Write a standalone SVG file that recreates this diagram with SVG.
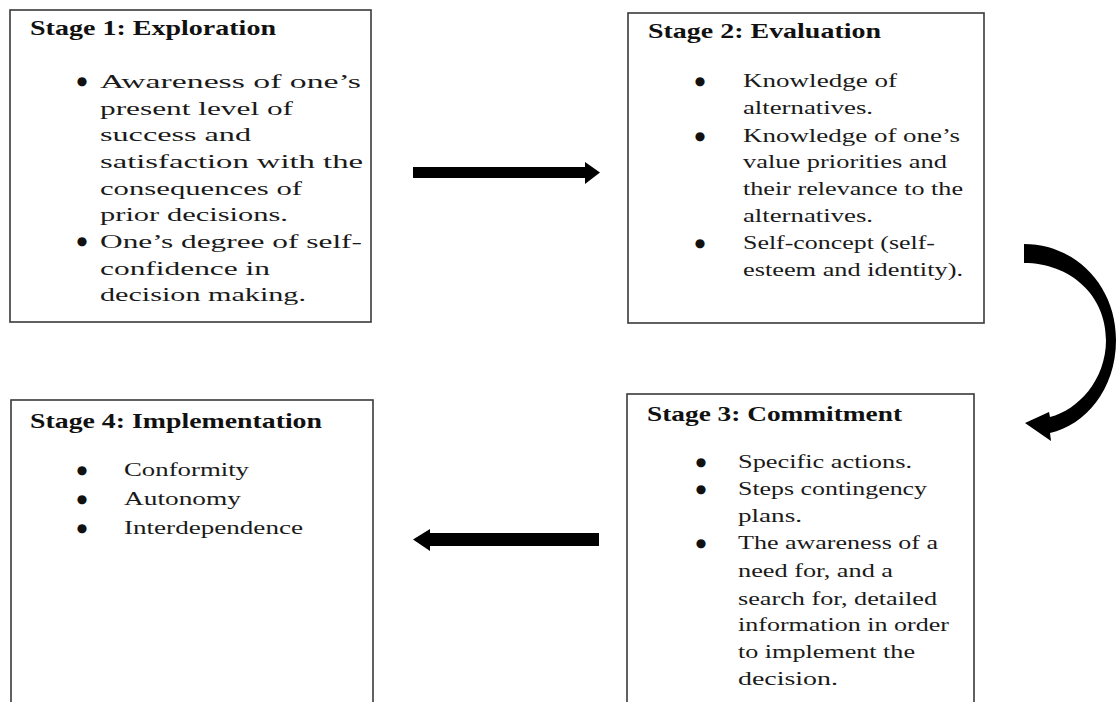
<svg xmlns="http://www.w3.org/2000/svg" width="1116" height="702" viewBox="0 0 1116 702">
  <style>
    .box { fill: #ffffff; stroke: #3a3a3a; stroke-width: 1.6; }
    .title { font-family: "Liberation Serif", "Times New Roman", serif; font-size: 21px; font-weight: bold; fill: #111111; }
    .item { font-family: "Liberation Serif", "Times New Roman", serif; font-size: 19.5px; fill: #1a1a1a; }
    .bullet { font-family: "DejaVu Sans", sans-serif; font-size: 12px; fill: #111111; text-anchor: middle; }
    .arrow { fill: #000000; }
  </style>
  <rect width="1116" height="702" fill="#ffffff"/>

  <!-- Stage 1 -->
  <g id="stage1">
    <rect class="box" x="10" y="10" width="361" height="312"/>
    <text class="title" x="30" y="35" textLength="246" lengthAdjust="spacingAndGlyphs">Stage 1: Exploration</text>
    <text class="bullet" x="82" y="85">●</text>
    <text class="bullet" x="82" y="245">●</text>
    <text class="item" x="100" y="88" textLength="261" lengthAdjust="spacingAndGlyphs">Awareness of one’s</text>
    <text class="item" x="100" y="115" textLength="193" lengthAdjust="spacingAndGlyphs">present level of</text>
    <text class="item" x="100" y="141" textLength="151" lengthAdjust="spacingAndGlyphs">success and</text>
    <text class="item" x="100" y="168" textLength="263" lengthAdjust="spacingAndGlyphs">satisfaction with the</text>
    <text class="item" x="100" y="195" textLength="202" lengthAdjust="spacingAndGlyphs">consequences of</text>
    <text class="item" x="100" y="221" textLength="188" lengthAdjust="spacingAndGlyphs">prior decisions.</text>
    <text class="item" x="100" y="248" textLength="262" lengthAdjust="spacingAndGlyphs">One’s degree of self-</text>
    <text class="item" x="100" y="275" textLength="170" lengthAdjust="spacingAndGlyphs">confidence in</text>
    <text class="item" x="100" y="301" textLength="206" lengthAdjust="spacingAndGlyphs">decision making.</text>
  </g>

  <!-- Stage 2 -->
  <g id="stage2">
    <rect class="box" x="628" y="13" width="356" height="310"/>
    <text class="title" x="648" y="38" textLength="233" lengthAdjust="spacingAndGlyphs">Stage 2: Evaluation</text>
    <text class="bullet" x="700" y="85">●</text>
    <text class="bullet" x="700" y="140">●</text>
    <text class="bullet" x="700" y="247">●</text>
    <text class="item" x="743" y="87" textLength="154" lengthAdjust="spacingAndGlyphs">Knowledge of</text>
    <text class="item" x="743" y="114" textLength="130" lengthAdjust="spacingAndGlyphs">alternatives.</text>
    <text class="item" x="743" y="142" textLength="217" lengthAdjust="spacingAndGlyphs">Knowledge of one’s</text>
    <text class="item" x="743" y="168" textLength="204" lengthAdjust="spacingAndGlyphs">value priorities and</text>
    <text class="item" x="743" y="195" textLength="220" lengthAdjust="spacingAndGlyphs">their relevance to the</text>
    <text class="item" x="743" y="222" textLength="130" lengthAdjust="spacingAndGlyphs">alternatives.</text>
    <text class="item" x="743" y="249" textLength="192" lengthAdjust="spacingAndGlyphs">Self-concept (self-</text>
    <text class="item" x="743" y="276" textLength="220" lengthAdjust="spacingAndGlyphs">esteem and identity).</text>
  </g>

  <!-- Stage 3 -->
  <g id="stage3">
    <rect class="box" x="627" y="394" width="347" height="320"/>
    <text class="title" x="647" y="421" textLength="255" lengthAdjust="spacingAndGlyphs">Stage 3: Commitment</text>
    <text class="bullet" x="701" y="466">●</text>
    <text class="bullet" x="701" y="493">●</text>
    <text class="bullet" x="701" y="547">●</text>
    <text class="item" x="738" y="468" textLength="174" lengthAdjust="spacingAndGlyphs">Specific actions.</text>
    <text class="item" x="738" y="495" textLength="189" lengthAdjust="spacingAndGlyphs">Steps contingency</text>
    <text class="item" x="738" y="522" textLength="64" lengthAdjust="spacingAndGlyphs">plans.</text>
    <text class="item" x="738" y="549" textLength="200" lengthAdjust="spacingAndGlyphs">The awareness of a</text>
    <text class="item" x="738" y="577" textLength="155" lengthAdjust="spacingAndGlyphs">need for, and a</text>
    <text class="item" x="738" y="605" textLength="199" lengthAdjust="spacingAndGlyphs">search for, detailed</text>
    <text class="item" x="738" y="631" textLength="211" lengthAdjust="spacingAndGlyphs">information in order</text>
    <text class="item" x="738" y="658" textLength="177" lengthAdjust="spacingAndGlyphs">to implement the</text>
    <text class="item" x="738" y="685" textLength="100" lengthAdjust="spacingAndGlyphs">decision.</text>
  </g>

  <!-- Stage 4 -->
  <g id="stage4">
    <rect class="box" x="11" y="400" width="362" height="314"/>
    <text class="title" x="30" y="428" textLength="292" lengthAdjust="spacingAndGlyphs">Stage 4: Implementation</text>
    <text class="bullet" x="82" y="474">●</text>
    <text class="bullet" x="82" y="503">●</text>
    <text class="bullet" x="82" y="532">●</text>
    <text class="item" x="124" y="476" textLength="125" lengthAdjust="spacingAndGlyphs">Conformity</text>
    <text class="item" x="124" y="505" textLength="117" lengthAdjust="spacingAndGlyphs">Autonomy</text>
    <text class="item" x="124" y="534" textLength="179" lengthAdjust="spacingAndGlyphs">Interdependence</text>
  </g>

  <!-- Connectors -->
  <g id="connectors">
    <!-- Stage 1 to Stage 2 -->
    <path class="arrow" d="M413,167 L585,167 L585,162 L600,172.5 L585,184 L585,178 L413,178 Z"/>
    <!-- Stage 2 to Stage 3, curved -->
    <path class="arrow" d="M1024,244 C1075,244 1116,285 1116,340 C1116,390 1085,425 1050,433 L1051,441 L1025,423 L1049,412 L1050,417 C1078,410 1106,380 1106,340 C1106,295 1070,263 1024,263 Z"/>
    <!-- Stage 3 to Stage 4 -->
    <path class="arrow" d="M599,533 L430,533 L430,529 L413,539.5 L430,551 L430,546 L599,546 Z"/>
  </g>
</svg>
